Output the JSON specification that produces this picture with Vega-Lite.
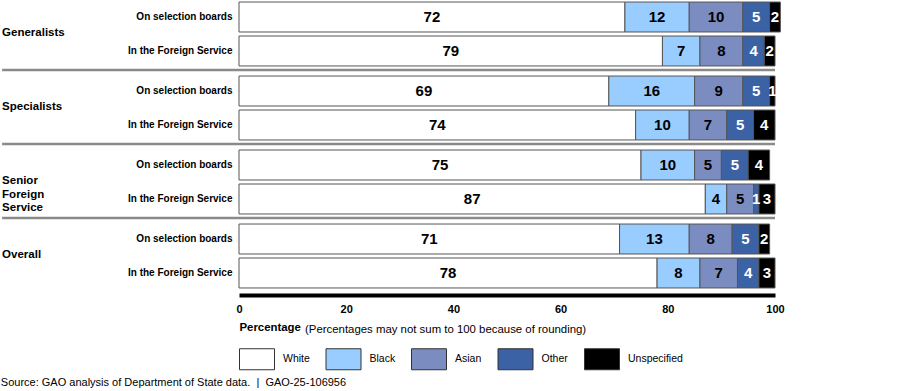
{
  "$schema": "https://vega.github.io/schema/vega-lite/v6.json",
  "padding": {"left": 0, "top": 1, "right": 5, "bottom": 2},
  "background": "white",
  "bounds": "flush",
  "data": {"values": [
    {"group": "Generalists", "sub": "On selection boards", "race": "White", "pct": 72},
    {"group": "Generalists", "sub": "On selection boards", "race": "Black", "pct": 12},
    {"group": "Generalists", "sub": "On selection boards", "race": "Asian", "pct": 10},
    {"group": "Generalists", "sub": "On selection boards", "race": "Other", "pct": 5},
    {"group": "Generalists", "sub": "On selection boards", "race": "Unspecified", "pct": 2},
    {"group": "Generalists", "sub": "In the Foreign Service", "race": "White", "pct": 79},
    {"group": "Generalists", "sub": "In the Foreign Service", "race": "Black", "pct": 7},
    {"group": "Generalists", "sub": "In the Foreign Service", "race": "Asian", "pct": 8},
    {"group": "Generalists", "sub": "In the Foreign Service", "race": "Other", "pct": 4},
    {"group": "Generalists", "sub": "In the Foreign Service", "race": "Unspecified", "pct": 2},
    {"group": "Specialists", "sub": "On selection boards", "race": "White", "pct": 69},
    {"group": "Specialists", "sub": "On selection boards", "race": "Black", "pct": 16},
    {"group": "Specialists", "sub": "On selection boards", "race": "Asian", "pct": 9},
    {"group": "Specialists", "sub": "On selection boards", "race": "Other", "pct": 5},
    {"group": "Specialists", "sub": "On selection boards", "race": "Unspecified", "pct": 1},
    {"group": "Specialists", "sub": "In the Foreign Service", "race": "White", "pct": 74},
    {"group": "Specialists", "sub": "In the Foreign Service", "race": "Black", "pct": 10},
    {"group": "Specialists", "sub": "In the Foreign Service", "race": "Asian", "pct": 7},
    {"group": "Specialists", "sub": "In the Foreign Service", "race": "Other", "pct": 5},
    {"group": "Specialists", "sub": "In the Foreign Service", "race": "Unspecified", "pct": 4},
    {"group": "Senior|Foreign|Service", "sub": "On selection boards", "race": "White", "pct": 75},
    {"group": "Senior|Foreign|Service", "sub": "On selection boards", "race": "Black", "pct": 10},
    {"group": "Senior|Foreign|Service", "sub": "On selection boards", "race": "Asian", "pct": 5},
    {"group": "Senior|Foreign|Service", "sub": "On selection boards", "race": "Other", "pct": 5},
    {"group": "Senior|Foreign|Service", "sub": "On selection boards", "race": "Unspecified", "pct": 4},
    {"group": "Senior|Foreign|Service", "sub": "In the Foreign Service", "race": "White", "pct": 87},
    {"group": "Senior|Foreign|Service", "sub": "In the Foreign Service", "race": "Black", "pct": 4},
    {"group": "Senior|Foreign|Service", "sub": "In the Foreign Service", "race": "Asian", "pct": 5},
    {"group": "Senior|Foreign|Service", "sub": "In the Foreign Service", "race": "Other", "pct": 1},
    {"group": "Senior|Foreign|Service", "sub": "In the Foreign Service", "race": "Unspecified", "pct": 3},
    {"group": "Overall", "sub": "On selection boards", "race": "White", "pct": 71},
    {"group": "Overall", "sub": "On selection boards", "race": "Black", "pct": 13},
    {"group": "Overall", "sub": "On selection boards", "race": "Asian", "pct": 8},
    {"group": "Overall", "sub": "On selection boards", "race": "Other", "pct": 5},
    {"group": "Overall", "sub": "On selection boards", "race": "Unspecified", "pct": 2},
    {"group": "Overall", "sub": "In the Foreign Service", "race": "White", "pct": 78},
    {"group": "Overall", "sub": "In the Foreign Service", "race": "Black", "pct": 8},
    {"group": "Overall", "sub": "In the Foreign Service", "race": "Asian", "pct": 7},
    {"group": "Overall", "sub": "In the Foreign Service", "race": "Other", "pct": 4},
    {"group": "Overall", "sub": "In the Foreign Service", "race": "Unspecified", "pct": 3}
  ]},
  "transform": [
    {"calculate": "indexof(['White','Black','Asian','Other','Unspecified'], datum.race)", "as": "ord"},
    {"stack": "pct", "groupby": ["group", "sub"], "sort": [{"field": "ord", "order": "ascending"}], "as": ["x0", "x1"]},
    {"calculate": "(datum.x0 + datum.x1) / 2", "as": "mid"}
  ],
  "facet": {
    "row": {
      "field": "group", "type": "nominal",
      "sort": ["Generalists", "Specialists", "Senior|Foreign|Service", "Overall"],
      "header": {"title": null, "labels": false}
    }
  },
  "spacing": 8,
  "spec": {
    "width": 536,
    "height": 66,
    "layer": [
      {
        "mark": {"type": "bar", "stroke": "#555555", "strokeWidth": 1},
        "encoding": {
          "y": {"field": "sub", "type": "nominal", "sort": ["On selection boards", "In the Foreign Service"],
                "scale": {"paddingInner": 0.118, "paddingOuter": 0.03},
                "axis": {"title": null, "ticks": false, "domain": false, "labelFont": "Liberation Sans",
                         "labelFontSize": 10, "labelFontWeight": "bold", "labelPadding": 7, "labelColor": "black",
                         "minExtent": 234, "maxExtent": 234}},
          "x": {"field": "x0", "type": "quantitative", "scale": {"domain": [0, 100]},
                "axis": {"orient": "bottom", "domain": true, "domainColor": "black", "domainWidth": 4,
                         "ticks": false, "grid": false, "values": [0, 20, 40, 60, 80, 100],
                         "labelFont": "Liberation Sans", "labelFontSize": 11, "labelFontWeight": "bold",
                         "labelColor": "black", "labelPadding": 8, "labelFlush": false, "offset": 6,
                         "title": "Percentage", "titleAnchor": "start", "titleAlign": "left",
                         "titleFont": "Liberation Sans", "titleFontSize": 11.4, "titleFontWeight": "bold",
                         "titleColor": "black", "titlePadding": 7}},
          "x2": {"field": "x1"},
          "fill": {"field": "race", "type": "nominal",
                   "scale": {"domain": ["White", "Black", "Asian", "Other", "Unspecified"],
                             "range": ["#ffffff", "#99ccff", "#7b8cc0", "#3a62a5", "#000000"]},
                   "legend": {"orient": "bottom", "direction": "horizontal", "title": null,
                              "symbolType": "M-1,-0.6L1,-0.6L1,0.6L-1,0.6Z", "symbolSize": 1225,
                              "symbolStrokeColor": "#333333", "symbolStrokeWidth": 1, "symbolOpacity": 1,
                              "labelFont": "Liberation Sans", "labelFontSize": 10.5, "labelColor": "black",
                              "labelOffset": 8, "columnPadding": 13.5, "offset": 5}}
        }
      },
      {
        "mark": {"type": "text", "font": "Liberation Sans", "fontSize": 15, "fontWeight": "bold", "baseline": "middle"},
        "encoding": {
          "y": {"field": "sub", "type": "nominal", "sort": ["On selection boards", "In the Foreign Service"]},
          "x": {"field": "mid", "type": "quantitative"},
          "text": {"field": "pct", "type": "quantitative"},
          "color": {"condition": {"test": "datum.race == 'Other' || datum.race == 'Unspecified'", "value": "white"}, "value": "black"}
        }
      },
      {
        "transform": [
          {"filter": "datum.race == 'White' && datum.sub == 'In the Foreign Service'"},
          {"calculate": "split(datum.group, '|')", "as": "glabel"}
        ],
        "mark": {"type": "text", "align": "left", "baseline": "middle", "dy": -3, "font": "Liberation Sans",
                 "fontSize": 11.5, "fontWeight": "bold", "lineHeight": 13.5, "color": "black"},
        "encoding": {
          "y": {"field": "sub", "type": "nominal", "bandPosition": 0, "sort": ["On selection boards", "In the Foreign Service"]},
          "x": {"datum": -44.2},
          "text": {"field": "glabel"}
        }
      },
      {
        "transform": [{"filter": "datum.race == 'White' && datum.sub == 'In the Foreign Service' && datum.group != 'Overall'"}],
        "mark": {"type": "rule", "stroke": "#8a8a8a", "strokeWidth": 2.5, "yOffset": 4},
        "encoding": {
          "y": {"field": "sub", "type": "nominal", "bandPosition": 1, "sort": ["On selection boards", "In the Foreign Service"]},
          "x": {"datum": -44.2},
          "x2": {"datum": 100}
        }
      },
      {
        "transform": [{"filter": "datum.race == 'White' && datum.sub == 'In the Foreign Service' && datum.group == 'Overall'"}],
        "mark": {"type": "text", "text": "(Percentages may not sum to 100 because of rounding)", "align": "left",
                 "baseline": "middle", "dx": 66, "dy": 42, "font": "Liberation Sans", "fontSize": 11.4, "color": "black"},
        "encoding": {
          "y": {"field": "sub", "type": "nominal", "bandPosition": 1, "sort": ["On selection boards", "In the Foreign Service"]},
          "x": {"datum": 0}
        }
      }
    ]
  },
  "title": {"text": "Source: GAO analysis of Department of State data.\u00a0\u00a0|\u00a0\u00a0GAO-25-106956", "orient": "bottom",
            "anchor": "start", "frame": "bounds", "font": "Liberation Sans", "fontSize": 11,
            "fontWeight": "normal", "color": "black", "offset": 5},
  "config": {"view": {"stroke": null}}
}
